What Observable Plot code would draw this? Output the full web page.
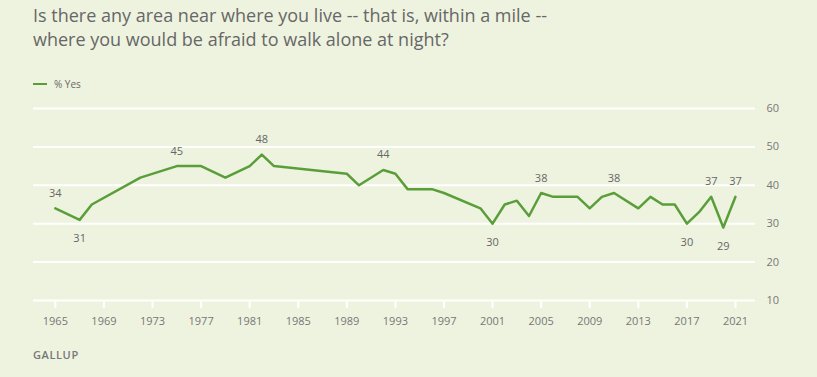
<!DOCTYPE html>
<html>
<head>
<meta charset="utf-8">
<script src="https://cdn.jsdelivr.net/npm/d3@7"></script>
<script src="https://cdn.jsdelivr.net/npm/@observablehq/plot@0.6"></script>
<style>
  html, body { margin: 0; padding: 0; background: #eef3df; width: 817px; height: 377px; overflow: hidden; }
  body { position: relative; font-family: "Open Sans", "Noto Sans", sans-serif; }
  #title { position: absolute; left: 33px; top: 3px; font-size: 18px; line-height: 24px; color: #676767; }
  #legend { position: absolute; left: 33px; top: 77px; font-size: 10px; color: #666; display: flex; align-items: center; }
  #legend .sw { width: 14px; height: 2.5px; background: #5a9e3a; margin-right: 7px; }
  #chart { position: absolute; left: 0; top: 95px; }
  #source { position: absolute; left: 33px; top: 347px; font-size: 11px; font-weight: 600; color: #777; letter-spacing: 0.6px; }
</style>
</head>
<body>
<div id="title">Is there any area near where you live -- that is, within a mile --<br>where you would be afraid to walk alone at night?</div>
<div id="legend"><span class="sw"></span><span>% Yes</span></div>
<div id="chart"></div>
<div id="source">GALLUP</div>
<script>
const years  = [1965, 1967, 1968, 1972, 1975, 1977, 1979, 1981, 1982, 1983, 1989, 1990, 1992, 1993, 1994, 1996, 1997, 2000, 2001, 2002, 2003, 2004, 2005, 2006, 2007, 2008, 2009, 2010, 2011, 2013, 2014, 2015, 2016, 2017, 2018, 2019, 2020, 2021];
const values = [34,   31,   35,   42,   45,   45,   42,   45,   48,   45,   43,   40,   44,   43,   39,   39,   38,   34,   30,   35,   36,   32,   38,   37,   37,   37,   34,   37,   38,   34,   37,   35,   35,   30,   33,   37,   29,   37];
const labelAbove = [1965, 1975, 1982, 1992, 2005, 2011, 2019, 2021];
const labelBelow = [1967, 2001, 2017, 2020];
const xTicks = [1965, 1969, 1973, 1977, 1981, 1985, 1989, 1993, 1997, 2001, 2005, 2009, 2013, 2017, 2021];
const yTicks = [10, 20, 30, 40, 50, 60];

const data = years.map((y, i) => ({year: y, value: values[i]}));
const above = data.filter(d => labelAbove.includes(d.year));
const below = data.filter(d => labelBelow.includes(d.year));

const chart = Plot.plot({
  width: 817,
  height: 245,
  marginLeft: 33,
  marginRight: 62,
  marginTop: 13,
  marginBottom: 40,
  style: { background: "transparent", fontFamily: "'Open Sans', 'Noto Sans', sans-serif", fontSize: "11px", color: "#777" },
  x: { domain: [1963.2, 2022.65] },
  y: { domain: [10, 60] },
  marks: [
    Plot.ruleY(yTicks, { stroke: "white", strokeWidth: 2 }),
    Plot.axisX({ ticks: xTicks, tickFormat: d => String(d), tickSize: 8, tickPadding: 9, stroke: "white", strokeWidth: 2, fill: "#777", fontSize: 11, label: null }),
    Plot.axisY({ anchor: "right", ticks: yTicks, tickSize: 0, tickPadding: 11, fill: "#777", fontSize: 11, label: null }),
    Plot.line(data, { x: "year", y: "value", stroke: "#5a9e3a", strokeWidth: 2.5, curve: "linear" }),
    Plot.text(above, { x: "year", y: "value", text: d => String(d.value), dy: -15, fill: "#666", fontSize: 11 }),
    Plot.text(below, { x: "year", y: "value", text: d => String(d.value), dy: 19, fill: "#666", fontSize: 11 })
  ]
});
document.getElementById("chart").appendChild(chart);
</script>
</body>
</html>
